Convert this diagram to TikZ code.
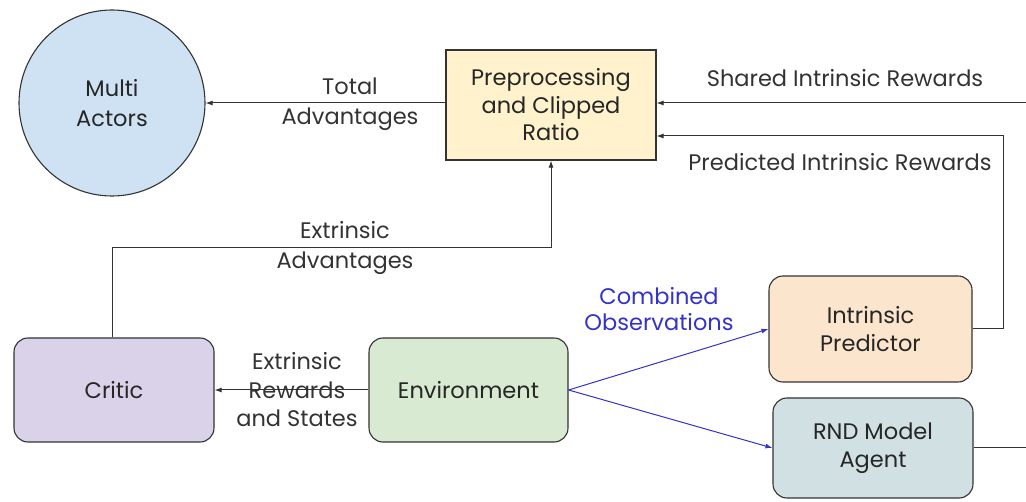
\documentclass[tikz,border=0pt]{standalone}
\usepackage{fontspec}
\setmainfont{Poppins}
\usetikzlibrary{arrows.meta}
\definecolor{actorblue}{HTML}{CFE2F3}
\definecolor{prepyellow}{HTML}{FFF2CC}
\definecolor{criticpurple}{HTML}{D9D2E9}
\definecolor{envgreen}{HTML}{D9EAD3}
\definecolor{predorange}{HTML}{FCE5CD}
\definecolor{rndblue}{HTML}{D0E0E3}
\definecolor{edge}{HTML}{333333}
\definecolor{obsblue}{HTML}{3333CC}
\tikzset{
  box/.style={draw=edge, line width=1.1pt, rounded corners=14pt, align=center,
    font=\fontsize{22.5}{27.5}\selectfont, text=black!85, inner sep=0pt},
  flow/.style={draw=edge, line width=1pt, -{Latex[length=7pt,width=5pt]}},
  obs/.style={draw=obsblue, line width=1pt, -{Latex[length=7pt,width=5pt]}},
  lbl/.style={align=center, font=\fontsize{22.5}{30}\selectfont, text=black!80},
}
\begin{document}
\begin{tikzpicture}[x=1pt,y=-1pt]
\useasboundingbox (0,0) rectangle (1026,502);
\fill[white] (0,0) rectangle (1026,502);

% nodes
\node[draw=edge, line width=1.1pt, fill=actorblue, circle, minimum size=186pt, inner sep=0pt,
  align=center, text=black!85, font=\fontsize{22.5}{30}\selectfont] (actors) at (112,103) {Multi\\Actors};
\node[box, rounded corners=0pt, fill=prepyellow, minimum width=210pt, minimum height=110pt]
  (prep) at (551,105) {Preprocessing\\and Clipped\\Ratio};
\node[box, fill=criticpurple, minimum width=200pt, minimum height=104pt] (critic) at (114,390) {Critic};
\node[box, fill=envgreen, minimum width=199pt, minimum height=104pt] (env) at (468.5,390) {Environment};
\node[box, fill=predorange, minimum width=203pt, minimum height=106pt] (pred) at (870.5,329) {Intrinsic\\Predictor};
\node[box, fill=rndblue, minimum width=200pt, minimum height=100pt] (rnd) at (873,448) {RND Model\\Agent};

\coordinate (sharedin) at (1026,103);
\coordinate (rndout) at (1026,448);

% connectors
\draw[flow] (prep.west |- actors.east) -- (actors.east);
\node[lbl] (ltotal) at (350,104) {Total\\Advantages};

\draw[flow] (sharedin) -- (prep.east |- sharedin);
\node[lbl] (lshared) at (845,78) {Shared Intrinsic Rewards};

\draw[flow] (pred.east) -- (1003,329) -- (1003,136) -- (prep.east |- 0,136);
\node[lbl] (lpred) at (840,162) {Predicted Intrinsic Rewards};

\draw[flow] (critic.north -| 112,0) -- (112,248) -- (551,248) -- (prep.south);
\node[lbl] (lext) at (345,248) {Extrinsic\\Advantages};

\draw[flow] (env.west) -- (critic.east);
\node[lbl, font=\fontsize{22.5}{28.5}\selectfont] (lrew) at (297,390) {Extrinsic\\Rewards\\and States};

\draw[obs] (env.east) -- (pred.west);
\draw[obs] (env.east) -- (rnd.west);
\node[lbl, text=obsblue, font=\fontsize{22.5}{26}\selectfont] (lobs) at (659,309) {Combined\\Observations};

\draw[draw=edge, line width=1pt] (rnd.east) -- (rndout);
\end{tikzpicture}
\end{document}
